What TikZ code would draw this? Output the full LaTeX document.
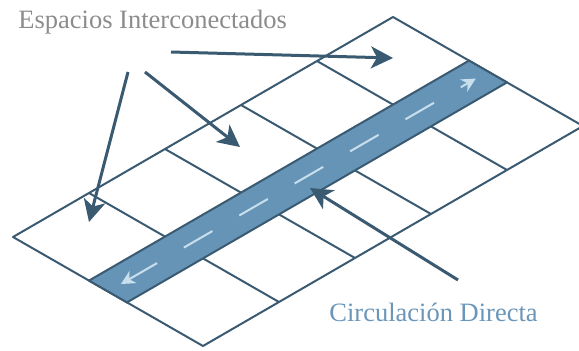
\documentclass[tikz,border=0pt]{standalone}
\usepackage{fontspec}
\setmainfont{Liberation Serif}
\usetikzlibrary{arrows.meta}
\definecolor{gridline}{HTML}{3A5A72}
\definecolor{stripfill}{HTML}{6694B6}
\definecolor{dashblue}{HTML}{C8DFEE}
\definecolor{labelgray}{HTML}{8C8C8C}
\definecolor{labelblue}{HTML}{6A96BA}

\begin{document}
\begin{tikzpicture}[x=0.5pt,y=0.5pt]
\tikzset{
gridstyle/.style = {draw=gridline, line width=1pt, line join=round},
stripstyle/.style = {fill=stripfill, draw=gridline, line width=1pt, line join=round},
flowline/.style = {draw=dashblue, line width=1pt, dash pattern=on 16.5pt off 15.5pt,
  {Stealth[length=7pt,width=7pt]}-{Stealth[length=7pt,width=7pt]}},
callout/.style = {draw=gridline, line width=1.5pt,
  -{Stealth[length=11pt,width=11pt,inset=3pt]}},
labeltext/.style = {font=\fontsize{13.25}{15}\selectfont, inner sep=0pt, anchor=base west}
}
\useasboundingbox (0,0) rectangle (579,350);
\begin{scope}[shift={(6.5pt,56.5pt)}, x={(38pt,22pt)}, y={(47.5pt,-27.25pt)}]
\coordinate (L) at (0,0);
\coordinate (T) at (5,0);
\coordinate (R) at (5,2);
\coordinate (B) at (0,2);
\draw[gridstyle] (L) -- (T) -- (R) -- (B) -- cycle;
\foreach \i in {1,...,4}{
\draw[gridstyle] (\i,0) -- (\i,0.8);
\draw[gridstyle] (\i,1.2) -- (\i,2);
}
\draw[stripstyle] (0,0.8) -- (5,0.8) -- (5,1.2) -- (0,1.2) -- cycle;
\coordinate (flowA) at (0.17,1);
\coordinate (flowB) at (4.84,1);
\draw[flowline] (flowA) -- (flowB);
\end{scope}
\node[labeltext, text=labelgray] (espacios) at (18,322) {Espacios Interconectados};
\node[labeltext, text=labelblue] (circulacion) at (329,29) {Circulación Directa};
\coordinate (t1) at (171,298);
\coordinate (h1) at (393,292);
\coordinate (t2) at (145,278);
\coordinate (h2) at (240,203);
\coordinate (t3) at (128,278);
\coordinate (h3) at (89,128);
\coordinate (t4) at (458,70);
\coordinate (h4) at (310,162);
\draw[callout] (t1) -- (h1);
\draw[callout] (t2) -- (h2);
\draw[callout] (t3) -- (h3);
\draw[callout] (t4) -- (h4);
\end{tikzpicture}
\end{document}
